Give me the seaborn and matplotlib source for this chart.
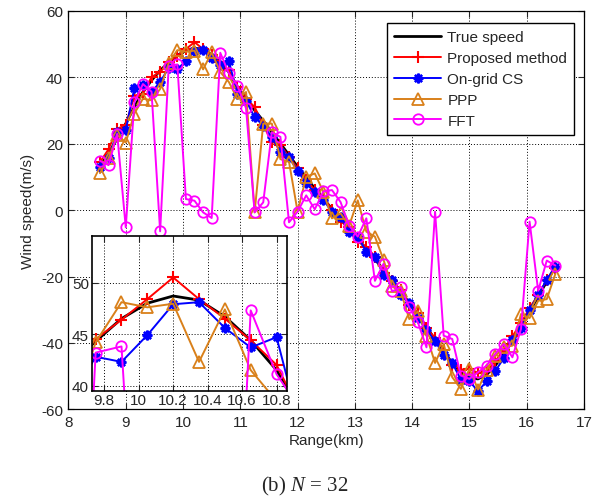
import numpy as np
import pandas as pd
import matplotlib
matplotlib.use("Agg")
import matplotlib.pyplot as plt
import seaborn as sns

# range bins (km), 150 m spacing
range_km = np.round(8.55 + 0.15 * np.arange(54), 2)

true_speed = [13.0, 17.0, 21.5, 26.0, 31.0, 35.5, 39.0, 42.0, 44.3, 46.5,
              48.0, 48.7, 48.3, 46.7, 44.4, 41.5, 37.0, 33.5, 30.0, 26.8,
              23.4, 20.0, 16.5, 13.0, 9.7, 6.5, 3.4, 0.3, -2.7, -5.7,
              -8.7, -11.7, -14.8, -18.0, -21.2, -24.5, -28.0, -31.5, -35.2, -39.0,
              -42.6, -46.0, -48.8, -50.5, -50.8, -49.5, -46.8, -43.3, -39.3, -35.0,
              -30.5, -26.0, -21.5, -17.0]

proposed = [14.4, 18.3, 24.4, 25.6, 34.4, 35.0, 40.0, 41.5, 44.5, 46.4,
            48.4, 50.5, 48.4, 46.5, 44.4, 42.0, 37.0, 33.5, 31.0, 25.5,
            20.5, 19.5, 16.0, 12.5, 9.0, 6.0, 4.0, 0.0, -3.5, -5.0,
            -9.5, -11.0, -14.0, -19.0, -21.5, -24.0, -28.5, -31.0, -35.5, -38.5,
            -42.0, -46.5, -48.0, -47.8, -49.0, -48.5, -45.5, -42.0, -38.0, -34.0,
            -29.5, -25.5, -21.0, -17.5]

ongrid_cs = [12.9, 15.5, 23.5, 24.0, 36.6, 37.5, 35.5, 38.5, 42.8, 42.3,
             44.9, 47.9, 48.1, 45.6, 43.7, 44.7, 35.0, 32.9, 27.9, 25.4,
             22.0, 17.5, 15.8, 11.8, 8.0, 5.3, 3.0, -0.5, -2.0, -6.5,
             -8.0, -12.5, -14.0, -19.5, -21.0, -25.5, -28.0, -32.5, -36.0, -39.5,
             -43.5, -46.0, -51.0, -51.5, -54.5, -51.5, -48.5, -44.5, -39.0, -35.5,
             -30.0, -25.5, -21.0, -17.0]

ppp = [11.1, 15.5, 22.6, 20.3, 29.0, 33.5, 33.0, 36.4, 44.2, 48.1,
       47.6, 47.95, 42.3, 47.4, 41.5, 38.5, 33.4, 35.5, -0.7, 26.0,
       26.0, 15.3, 14.5, -0.5, 10.0, 11.0, 5.5, -2.5, -1.0, -4.7,
       2.9, -6.5, -8.0, -15.0, -23.0, -24.5, -32.8, -30.5, -37.8, -46.0,
       -40.3, -50.3, -53.8, -47.8, -54.0, -48.0, -44.0, -41.3, -40.8, -31.3,
       -32.5, -27.3, -26.8, -19.2]

fft = [14.8, 13.5, 22.9, -5.2, 32.4, 37.9, 35.6, -6.4, 43.2, 43.8,
       3.3, 2.8, -0.7, -2.4, 47.3, 41.1, 37.4, 30.6, -0.7, 2.3,
       23.4, 22.0, -3.7, -0.5, 4.4, 0.2, 5.6, 6.0, 2.4, -4.7,
       -8.0, -2.5, -21.3, -16.2, -24.5, -23.2, -29.3, -33.8, -41.3, -0.5,
       -37.8, -38.8, -49.8, -50.8, -48.8, -46.8, -43.3, -40.3, -44.3, -35.8,
       -3.5, -24.3, -15.2, -16.7]

series_names = ["True speed", "Proposed method", "On-grid CS", "PPP", "FFT"]
series_vals = [true_speed, proposed, ongrid_cs, ppp, fft]

df = pd.DataFrame({name: vals for name, vals in zip(series_names, series_vals)})
df["range"] = range_km

# --- style ---
sns.set_style("ticks")
plt.rcParams.update({
    "font.family": ["Liberation Sans", "DejaVu Sans"],
    "font.size": 11,
    "axes.linewidth": 0.9,
    "axes.unicode_minus": False,
    "mathtext.fontset": "custom",
    "mathtext.rm": "Liberation Serif",
    "mathtext.it": "Liberation Serif:italic",
})

styles = {
    "True speed":      dict(color="black", marker=None, lw=2.0, ms=0, mew=0, mfc="none"),
    "Proposed method": dict(color="#FF0000", marker="+", lw=1.4, ms=8, mew=1.5, mfc="none"),
    "On-grid CS":      dict(color="#0000FF", marker=(8, 2, 0), lw=1.4, ms=7, mew=1.7, mfc="none"),
    "PPP":             dict(color="#D9801A", marker="^", lw=1.4, ms=9, mew=1.3, mfc="none"),
    "FFT":             dict(color="#FF00FF", marker="o", lw=1.4, ms=7.5, mew=1.3, mfc="none"),
}


def draw_series(ax, with_label):
    for name in series_names:
        st = styles[name]
        kw = dict(color=st["color"], linewidth=st["lw"])
        if st["marker"] is not None:
            kw.update(marker=st["marker"], markersize=st["ms"], markeredgewidth=st["mew"],
                      markerfacecolor=st["mfc"], markeredgecolor=st["color"])
        sns.lineplot(data=df, x="range", y=name, ax=ax, sort=False, estimator=None,
                     label=name if with_label else None, legend=False, **kw)


fig = plt.figure(figsize=(6.06, 5.02), dpi=100)
ax = fig.add_axes([0.113, 0.1823, 0.8507, 0.7947])
draw_series(ax, True)

ax.set_xlim(8, 17)
ax.set_ylim(-60, 60)
ax.set_xticks(range(8, 18))
ax.set_yticks(range(-60, 61, 20))
ax.grid(True, linestyle=(0, (1, 2)), color="black", linewidth=0.7)
ax.tick_params(direction="in", top=True, right=True, length=4, labelsize=11, pad=4)
ax.set_xlabel("Range(km)", fontsize=11, labelpad=3)
ax.set_ylabel("Wind speed(m/s)", fontsize=11, labelpad=4)
for sp in ax.spines.values():
    sp.set_visible(True)
    sp.set_color("black")

leg = ax.legend(loc="upper right", bbox_to_anchor=(0.9955, 0.987), fancybox=False,
                edgecolor="black", framealpha=1, fontsize=11, handlelength=3.1,
                borderpad=0.45, labelspacing=0.45, handletextpad=0.4)
leg.get_frame().set_linewidth(1.0)

# --- inset ---
axin = fig.add_axes([0.1513, 0.2197, 0.3227, 0.3076])
axin.set_facecolor("white")
draw_series(axin, False)
axin.set_xlim(9.727, 10.862)
axin.set_ylim(39.5, 54.5)
axin.set_xticks([9.8, 10, 10.2, 10.4, 10.6, 10.8])
axin.set_xticklabels(["9.8", "10", "10.2", "10.4", "10.6", "10.8"])
axin.set_yticks([40, 45, 50])
axin.grid(True, linestyle=(0, (1, 2)), color="black", linewidth=0.7)
axin.tick_params(direction="in", top=True, right=True, length=4, labelsize=11, pad=2)
axin.set_xlabel("")
axin.set_ylabel("")
for sp in axin.spines.values():
    sp.set_visible(True)
    sp.set_color("black")
    sp.set_linewidth(1.2)

fig.text(0.502, 0.03, r"(b) $N$ = 32", ha="center", va="center",
         fontsize=15, family="Liberation Serif")

fig.savefig("out.png", dpi=100, facecolor="white")
